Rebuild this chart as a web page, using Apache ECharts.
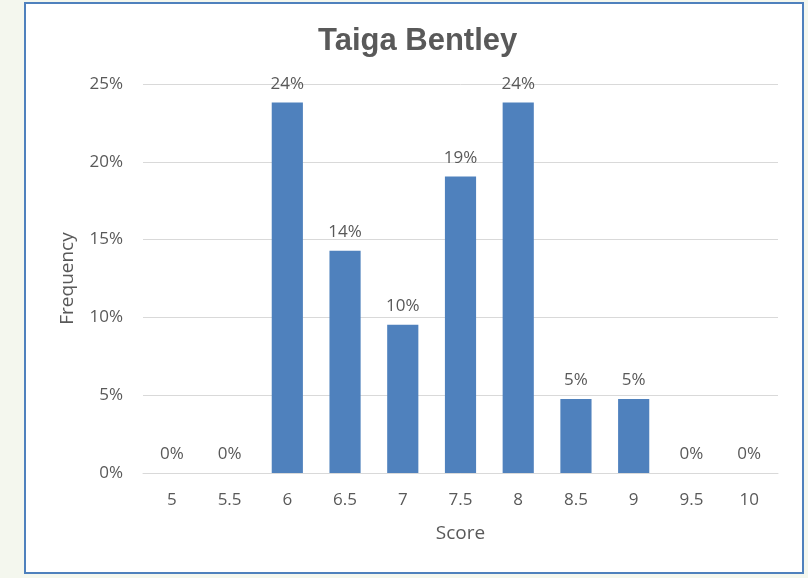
<!DOCTYPE html>
<html>
<head>
<meta charset="utf-8">
<script src="https://cdn.jsdelivr.net/npm/echarts@6/dist/echarts.min.js"></script>
<style>
  html, body { margin: 0; padding: 0; background: #f4f7ee; }
  #chart { width: 808px; height: 578px; }
</style>
</head>
<body>
<div id="chart"></div>
<script>
const scores = ['5', '5.5', '6', '6.5', '7', '7.5', '8', '8.5', '9', '9.5', '10'];
const frequency = [0, 0, 23.81, 14.29, 9.52, 19.05, 23.81, 4.76, 4.76, 0, 0];
const yTicks = [0, 5, 10, 15, 20, 25];

const chart = echarts.init(document.getElementById('chart'));
const textColor = '#595959';
const font = '"Open Sans", "Noto Sans", sans-serif';

const option = {
  backgroundColor: '#f4f7ee',
  animation: false,
  graphic: [{
    type: 'rect',
    z: -10,
    shape: { x: 25, y: 3, width: 778, height: 570 },
    style: { fill: '#ffffff', stroke: '#4f81bd', lineWidth: 2 }
  }],
  title: {
    text: 'Taiga Bentley',
    left: 313,
    top: 21,
    textStyle: { fontFamily: 'Liberation Sans, Arial, sans-serif', fontSize: 31, fontWeight: 'bold', color: '#595959' }
  },
  grid: { left: 143, right: 30, top: 84, bottom: 105 },
  xAxis: {
    type: 'category',
    data: scores,
    name: 'Score',
    nameLocation: 'middle',
    nameGap: 51,
    nameTextStyle: { color: textColor, fontSize: 19, fontFamily: font },
    axisLine: { lineStyle: { color: '#d9d9d9', width: 1 } },
    axisTick: { show: false },
    axisLabel: { color: textColor, fontSize: 17, fontFamily: font, margin: 19 }
  },
  yAxis: {
    type: 'value',
    min: yTicks[0],
    max: yTicks[yTicks.length - 1],
    interval: yTicks[1] - yTicks[0],
    name: 'Frequency',
    nameLocation: 'middle',
    nameGap: 66,
    nameTextStyle: { color: textColor, fontSize: 19, fontFamily: font },
    axisLine: { show: false },
    axisTick: { show: false },
    splitLine: { lineStyle: { color: '#d9d9d9', width: 1 } },
    axisLabel: { color: textColor, fontSize: 17, fontFamily: font, margin: 20, formatter: v => v + '%' }
  },
  series: [{
    type: 'bar',
    data: frequency,
    barWidth: '54%',
    itemStyle: { color: '#4f81bd' },
    label: {
      show: true,
      position: 'top',
      distance: 10,
      color: textColor,
      fontSize: 17,
      fontFamily: font,
      formatter: p => Math.round(p.value) + '%'
    }
  }]
};

chart.setOption(option);
</script>
</body>
</html>
